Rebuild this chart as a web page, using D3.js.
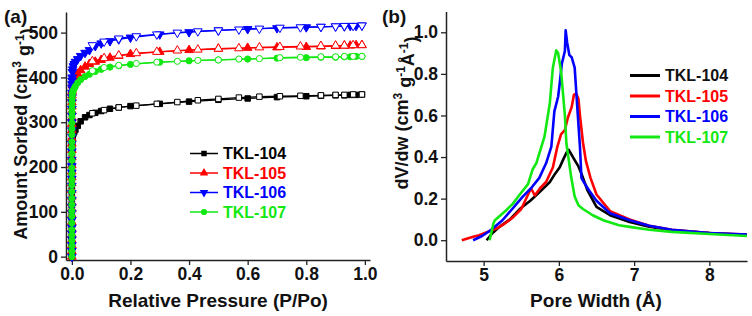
<!DOCTYPE html>
<html>
<head>
<meta charset="utf-8">
<script src="https://cdn.jsdelivr.net/npm/d3@7"></script>
<style>
  body { margin: 0; background: #fff; }
  text { font-family: Arial, "Liberation Sans", sans-serif; font-weight: bold; }
</style>
</head>
<body>
<svg id="chart" width="752" height="316"></svg>
<script>
// ---- (a) N2 isotherms: adsorption (filled) and desorption (open)
const P_ADS = [0.000001, 0.000002, 0.000003, 0.000004, 0.000005, 0.000006, 0.000008, 0.00001, 0.000012, 0.000015,
    0.000018, 0.000022, 0.000026, 0.00003, 0.000035, 0.00004, 0.00005, 0.00006, 0.00007, 0.00008,
    0.0001, 0.00012, 0.00015, 0.0002, 0.00025, 0.0003, 0.0004, 0.0005, 0.0007, 0.001,
    0.002, 0.003, 0.005, 0.008, 0.012, 0.02, 0.03, 0.045, 0.06, 0.08, 0.1, 0.13, 0.16, 0.2,
    0.3, 0.4, 0.5, 0.6, 0.7, 0.8, 0.85, 0.9, 0.93, 0.95, 0.97, 0.99];
const ADS_104 = [0, 7, 14, 21, 28, 35, 44, 53, 61, 70, 79, 88, 97, 106, 115, 124, 136, 147, 157, 166,
    178, 187, 196, 207, 215, 222, 231, 238, 246, 253,
    262, 268, 274, 278, 283, 292, 302, 311, 316, 321, 325, 330, 333, 336,
    341, 346, 350, 353, 356, 358, 359, 360, 360, 361, 361, 362];
const ADS_105 = [0, 12, 25, 37, 49, 61, 77, 93, 106, 120, 134, 149, 164, 177, 190, 204, 222, 238, 252, 265,
    282, 296, 310, 325, 335, 344, 353, 360, 366, 370,
    382, 388, 393, 397, 401, 408, 416, 424, 430, 435, 439, 444, 448, 452,
    457, 461, 464, 466, 467, 468, 469, 470, 471, 471, 472, 472];
const ADS_106 = [0, 13, 26, 39, 52, 65, 82, 98, 112, 127, 142, 158, 174, 188, 202, 216, 235, 252, 268, 282,
    300, 315, 330, 345, 356, 366, 377, 385, 393, 400,
    412, 418, 425, 430, 435, 441, 448, 455, 461, 470, 476, 481, 485, 489,
    496, 501, 505, 508, 510, 512, 513, 514, 514, 515, 515, 516];
const ADS_107 = [0, 12, 24, 36, 48, 60, 75, 90, 102, 116, 130, 145, 160, 172, 185, 198, 215, 230, 244, 256,
    272, 285, 298, 312, 322, 330, 338, 345, 352, 358,
    364, 367, 371, 375, 380, 388, 395, 402, 407, 413, 418, 423, 426, 429,
    434, 437, 439, 441, 443, 444, 445, 445, 446, 446, 447, 447];

const P_DES = [0.99, 0.96, 0.93, 0.9, 0.85, 0.78, 0.71, 0.64, 0.57, 0.5, 0.43, 0.36, 0.29, 0.22, 0.16, 0.11, 0.07];
const DES_104 = [362, 362, 361, 361, 360, 359, 358, 357, 355, 352, 349, 345, 341, 337, 333, 327, 320];
const DES_105 = [472, 472, 471, 471, 470, 469, 468, 467, 465, 464, 462, 460, 457, 454, 449, 443, 436];
const DES_106 = [516, 515, 515, 514, 513, 512, 511, 509, 507, 505, 503, 500, 496, 492, 487, 480, 472];
const DES_107 = [447, 447, 447, 446, 446, 445, 444, 442, 441, 439, 438, 436, 434, 431, 427, 422, 415];

// ---- (b) pore size distributions
const W_104 = [5.04, 5.12, 5.21, 5.35, 5.48, 5.62, 5.74, 5.88, 5.95, 6.01, 6.06, 6.10, 6.13, 6.17, 6.21, 6.26, 6.30, 6.38, 6.5, 6.68, 6.94, 7.2, 7.5, 8.0, 8.5];
const V_104 = [0.0, 0.035, 0.064, 0.10, 0.15, 0.19, 0.23, 0.28, 0.32, 0.35, 0.39, 0.42, 0.435, 0.41, 0.385, 0.355, 0.32, 0.24, 0.16, 0.12, 0.088, 0.065, 0.048, 0.035, 0.025];
const W_105 = [4.71, 4.85, 4.94, 5.05, 5.17, 5.28, 5.39, 5.50, 5.63, 5.68, 5.75, 5.83, 5.92, 5.98, 6.03, 6.08, 6.12, 6.17, 6.20, 6.23, 6.26, 6.28, 6.32, 6.36, 6.42, 6.5, 6.68, 6.94, 7.2, 7.5, 8.0, 8.5];
const V_105 = [0.0, 0.015, 0.024, 0.04, 0.056, 0.08, 0.11, 0.15, 0.25, 0.215, 0.25, 0.28, 0.35, 0.45, 0.51, 0.53, 0.59, 0.64, 0.70, 0.705, 0.68, 0.60, 0.47, 0.38, 0.30, 0.22, 0.14, 0.10, 0.07, 0.05, 0.035, 0.027];
const W_106 = [4.86, 4.98, 5.1, 5.25, 5.38, 5.52, 5.63, 5.74, 5.83, 5.90, 5.94, 5.99, 6.01, 6.04, 6.08, 6.09, 6.11, 6.14, 6.17, 6.21, 6.23, 6.25, 6.28, 6.30, 6.33, 6.4, 6.5, 6.68, 6.94, 7.2, 7.5, 8.0, 8.5];
const V_106 = [0.0, 0.02, 0.05, 0.096, 0.15, 0.21, 0.25, 0.30, 0.37, 0.45, 0.62, 0.69, 0.75, 0.85, 0.91, 1.01, 0.95, 0.89, 0.88, 0.83, 0.72, 0.61, 0.45, 0.30, 0.28, 0.24, 0.19, 0.13, 0.096, 0.07, 0.05, 0.035, 0.027];
const W_107 = [5.08, 5.13, 5.15, 5.30, 5.39, 5.48, 5.59, 5.65, 5.70, 5.81, 5.88, 5.92, 5.965, 5.99, 6.03, 6.08, 6.10, 6.165, 6.21, 6.26, 6.32, 6.45, 6.59, 6.8, 6.94, 7.2, 7.5, 8.0, 8.5];
const V_107 = [0.0, 0.08, 0.096, 0.144, 0.176, 0.22, 0.27, 0.34, 0.37, 0.50, 0.66, 0.83, 0.913, 0.90, 0.81, 0.60, 0.465, 0.30, 0.21, 0.168, 0.15, 0.12, 0.096, 0.072, 0.064, 0.05, 0.04, 0.03, 0.02];

const NAMES = ["TKL-104", "TKL-105", "TKL-106", "TKL-107"];
const COLORS = ["#000000", "#ff0000", "#0000ff", "#12e812"];

const svg = d3.select("#chart");

// shared axis helper, Origin style: outward ticks plus one minor tick between majors
function drawAxes(x, y, xMajor, xMinor, yMajor, yMinor, xFmt, yFmt) {
    const x0 = x.range()[0], y0 = y.range()[0];
    const gx = svg.append("g").attr("transform", `translate(0,${y0})`);
    gx.call(d3.axisBottom(x).tickValues(xMinor).tickSize(3).tickSizeOuter(0).tickFormat(""));
    gx.call(d3.axisBottom(x).tickValues(xMajor).tickSize(5).tickSizeOuter(0).tickPadding(3).tickFormat(xFmt));
    const gy = svg.append("g").attr("transform", `translate(${x0},0)`);
    gy.call(d3.axisLeft(y).tickValues(yMinor).tickSize(3).tickSizeOuter(0).tickFormat(""));
    gy.call(d3.axisLeft(y).tickValues(yMajor).tickSize(5).tickSizeOuter(0).tickPadding(3).tickFormat(yFmt));
    svg.selectAll(".domain").attr("stroke", "#222").attr("stroke-width", 1.5);
    svg.selectAll(".tick line").attr("stroke", "#222").attr("stroke-width", 1.3);
    svg.selectAll(".tick text").attr("fill", "#111").style("font-size", "17.5px");
}

// ================= panel (a)
const xa = d3.scaleLinear().domain([-0.02, 1.0175]).range([66, 370]);
const ya = d3.scaleLinear().domain([-7.5, 546]).range([260, 12]);

drawAxes(xa, ya,
    [0, 0.2, 0.4, 0.6, 0.8, 1.0], [0.1, 0.3, 0.5, 0.7, 0.9],
    [0, 100, 200, 300, 400, 500], [50, 150, 250, 350, 450],
    d3.format(".1f"), d3.format("d"));

const symbols = [
    d3.symbol().type(d3.symbolSquare).size(30),
    d3.symbol().type(d3.symbolTriangle).size(32),
    d3.symbol().type(d3.symbolTriangle).size(32),
    d3.symbol().type(d3.symbolCircle).size(30)
];
const rotations = [0, 0, 180, 0];

const adsSets = [ADS_104, ADS_105, ADS_106, ADS_107];
const desSets = [DES_104, DES_105, DES_106, DES_107];
const lineA = d3.line().x(d => xa(d[0])).y(d => ya(d[1]));

adsSets.forEach((ads, i) => {
    const adsPts = P_ADS.map((p, k) => [p, ads[k]]);
    const desPts = P_DES.map((p, k) => [p, desSets[i][k]]);
    svg.append("path").attr("d", lineA(adsPts)).attr("fill", "none")
        .attr("stroke", COLORS[i]).attr("stroke-width", 1.3);
    svg.append("path").attr("d", lineA(desPts)).attr("fill", "none")
        .attr("stroke", COLORS[i]).attr("stroke-width", 1.3);
    svg.append("g").selectAll("path").data(adsPts).enter().append("path")
        .attr("d", symbols[i])
        .attr("transform", d => `translate(${xa(d[0])},${ya(d[1])}) rotate(${rotations[i]})`)
        .attr("fill", COLORS[i]).attr("stroke", COLORS[i]).attr("stroke-width", 1);
    svg.append("g").selectAll("path").data(desPts).enter().append("path")
        .attr("d", symbols[i])
        .attr("transform", d => `translate(${xa(d[0])},${ya(d[1])}) rotate(${rotations[i]})`)
        .attr("fill", "#fff").attr("stroke", COLORS[i]).attr("stroke-width", 1);
});

// legend (a)
NAMES.forEach((name, i) => {
    const ly = 153.5 + i * 19.5;
    svg.append("line").attr("x1", 190).attr("x2", 218).attr("y1", ly).attr("y2", ly)
        .attr("stroke", COLORS[i]).attr("stroke-width", 1.5);
    svg.append("path").attr("d", symbols[i])
        .attr("transform", `translate(204,${ly}) rotate(${rotations[i]})`)
        .attr("fill", COLORS[i]);
    svg.append("text").attr("x", 223).attr("y", ly + 5.5)
        .attr("fill", COLORS[i]).style("font-size", "16px").text(name);
});

svg.append("text").attr("x", 218).attr("y", 307).attr("text-anchor", "middle")
    .style("font-size", "19px").attr("fill", "#111").text("Relative Pressure (P/Po)");

const tA = svg.append("text").attr("transform", "translate(27,134) rotate(-90)")
    .attr("text-anchor", "middle").style("font-size", "18px").attr("fill", "#111");
tA.append("tspan").text("Amount Sorbed (cm");
tA.append("tspan").attr("dy", "-0.5em").style("font-size", "12px").text("3");
tA.append("tspan").attr("dy", "0.5em").text(" g");
tA.append("tspan").attr("dy", "-0.5em").style("font-size", "12px").text("-1");
tA.append("tspan").attr("dy", "0.5em").text(")");

svg.append("text").attr("x", 4).attr("y", 23).style("font-size", "19px").attr("fill", "#111").text("(a)");

// ================= panel (b)
const xb = d3.scaleLinear().domain([4.5, 8.5]).range([446, 747]);
const yb = d3.scaleLinear().domain([-0.1, 1.1]).range([261, 11.5]);

drawAxes(xb, yb,
    [5, 6, 7, 8], [4.5, 5.5, 6.5, 7.5],
    [0, 0.2, 0.4, 0.6, 0.8, 1.0], [-0.1, 0.1, 0.3, 0.5, 0.7, 0.9, 1.1],
    d3.format("d"), d3.format(".1f"));

const wSets = [W_104, W_105, W_106, W_107];
const vSets = [V_104, V_105, V_106, V_107];
const lineB = d3.line().x(d => xb(d[0])).y(d => yb(d[1]));

wSets.forEach((ws, i) => {
    const pts = ws.map((w, k) => [w, vSets[i][k]]);
    svg.append("path").attr("d", lineB(pts)).attr("fill", "none")
        .attr("stroke", COLORS[i]).attr("stroke-width", 2.6).attr("stroke-linejoin", "round");
});

// legend (b)
NAMES.forEach((name, i) => {
    const ly = 75.5 + i * 20.5;
    svg.append("line").attr("x1", 630).attr("x2", 660).attr("y1", ly).attr("y2", ly)
        .attr("stroke", COLORS[i]).attr("stroke-width", 3);
    svg.append("text").attr("x", 665).attr("y", ly + 5.5)
        .attr("fill", i === 0 ? "#111" : COLORS[i]).style("font-size", "16px").text(name);
});

svg.append("text").attr("x", 596).attr("y", 307).attr("text-anchor", "middle")
    .style("font-size", "19px").attr("fill", "#111").text("Pore Width (Å)");

const tB = svg.append("text").attr("transform", "translate(408,113) rotate(-90)")
    .attr("text-anchor", "middle").style("font-size", "18px").attr("fill", "#111");
tB.append("tspan").text("dV/dw (cm");
tB.append("tspan").attr("dy", "-0.5em").style("font-size", "12px").text("3");
tB.append("tspan").attr("dy", "0.5em").text(" g");
tB.append("tspan").attr("dy", "-0.5em").style("font-size", "12px").text("-1");
tB.append("tspan").attr("dy", "0.5em").text("Å");
tB.append("tspan").attr("dy", "-0.5em").style("font-size", "12px").text("-1");
tB.append("tspan").attr("dy", "0.5em").text(")");

svg.append("text").attr("x", 382).attr("y", 23).style("font-size", "19px").attr("fill", "#111").text("(b)");
</script>
</body>
</html>
